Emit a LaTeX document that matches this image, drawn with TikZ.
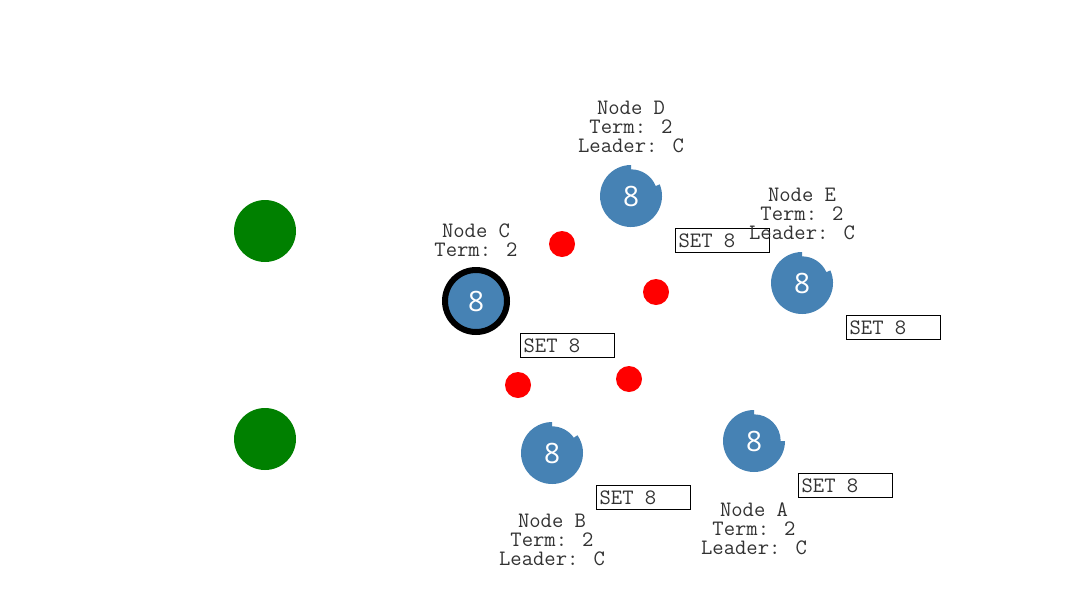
\documentclass[tikz,border=0pt]{standalone}
\usepackage{xcolor}
\usepackage{fontspec}
\usepackage{tikz}
\usetikzlibrary{positioning}
\setmainfont{Liberation Sans}
\newfontfamily\digitfont{Open Sans}
\definecolor{peerblue}{RGB}{70, 130, 180}
\definecolor{clientgreen}{RGB}{0, 128, 0}
\definecolor{msgred}{RGB}{255, 0, 0}
\definecolor{labelgray}{RGB}{50, 50, 50}
\newcommand{\logentry}[1]{\makebox[66pt][l]{#1}}

\begin{document}
\begin{tikzpicture}[x=0.75pt, y=-0.75pt,
    peer/.style={circle, minimum size=46.5pt, inner sep=0pt, text=white,
                 font=\digitfont\fontsize{21}{21}\selectfont},
    leaderpeer/.style={peer, fill=peerblue, draw=black, line width=4.5pt},
    peerinfo/.style={inner sep=0pt, align=center, text=labelgray,
                     font=\ttfamily\fontsize{16.5}{14.25}\selectfont},
    setbox/.style={draw=black, line width=0.9pt, minimum height=18pt, inner sep=2.25pt,
                   text=labelgray, font=\ttfamily\fontsize{16.5}{16}\selectfont},
    message/.style={circle, fill=msgred, minimum size=19.5pt, inner sep=0pt},
    client/.style={circle, fill=clientgreen, minimum size=46.5pt, inner sep=0pt}]
    \useasboundingbox (0,0) rectangle (1080,596);

    % clients
    \node[client] (client1) at (265,231) {};
    \node[client] (client2) at (265,439) {};

    % peers
    \node[leaderpeer] (peerC) at (476,301) {8};
    \node[peer] (peerD) at (631,196) {};
    \node[peer] (peerE) at (802,283) {};
    \node[peer] (peerB) at (552,453) {};
    \node[peer] (peerA) at (754,441) {};

    % notched discs of the followers
    \foreach \p/\gap in {peerD/22, peerE/24, peerB/35, peerA/0} {
        \fill[peerblue, shift={(\p.center)}] (\gap:23.25pt)
            arc[start angle=\gap, end angle=-270, radius=23.25pt]
            -- (90:20pt) arc[start angle=90, end angle=\gap, radius=20pt] -- cycle;
        \node[peer] at (\p.center) {8};
    }

    % messages in flight
    \node[message] (msg1) at (562,244) {};
    \node[message] (msg2) at (656,292) {};
    \node[message] (msg3) at (518,385) {};
    \node[message] (msg4) at (629,379) {};

    % log entries
    \node[setbox, anchor=north west] (setD) at ([shift={(33pt,-24pt)}]peerD.center) {\logentry{SET 8}};
    \node[setbox, anchor=north west] (setE) at ([shift={(33pt,-24pt)}]peerE.center) {\logentry{SET 8}};
    \node[setbox, anchor=north west] (setC) at ([shift={(33pt,-24pt)}]peerC.center) {\logentry{SET 8}};
    \node[setbox, anchor=north west] (setB) at ([shift={(33pt,-24pt)}]peerB.center) {\logentry{SET 8}};
    \node[setbox, anchor=north west] (setA) at ([shift={(33pt,-24pt)}]peerA.center) {\logentry{SET 8}};

    % peer state
    \node[peerinfo, above=8.5pt of peerD] (infoD) {Node D\\Term: 2\\Leader: C};
    \node[peerinfo, above=8.5pt of peerE] (infoE) {Node E\\Term: 2\\Leader: C};
    \node[peerinfo, above=7.5pt of peerC] (infoC) {Node C\\Term: 2};
    \node[peerinfo, below=22.5pt of peerB] (infoB) {Node B\\Term: 2\\Leader: C};
    \node[peerinfo, below=22.5pt of peerA] (infoA) {Node A\\Term: 2\\Leader: C};
\end{tikzpicture}
\end{document}
